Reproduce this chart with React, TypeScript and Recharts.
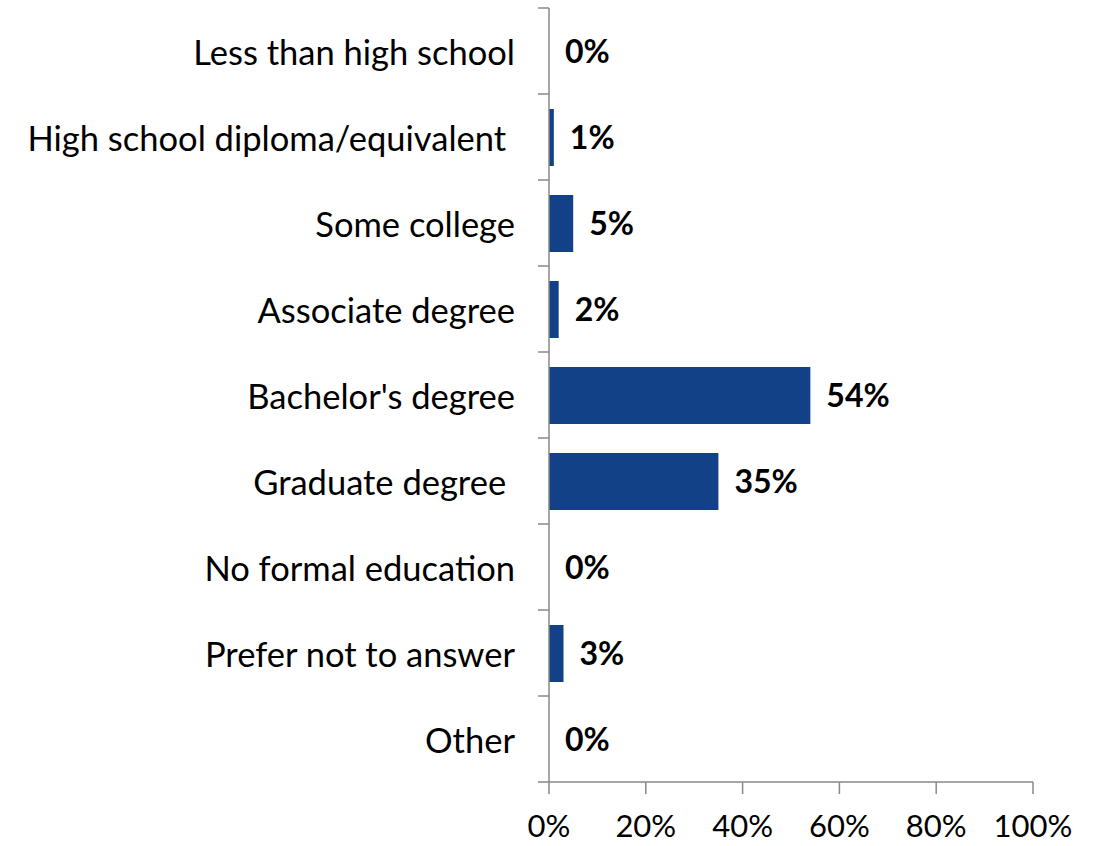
import { BarChart, Bar, XAxis, YAxis, LabelList } from "recharts";

const categories = [
  "Less than high school",
  "High school diploma/equivalent ",
  "Some college",
  "Associate degree",
  "Bachelor's degree",
  "Graduate degree ",
  "No formal education",
  "Prefer not to answer",
  "Other",
];
const shares = [0, 1, 5, 2, 54, 35, 0, 3, 0];
const xTicks = [0, 20, 40, 60, 80, 100];

const data = categories.map((name, i) => ({ name, value: shares[i] }));

const FONT = "Lato, 'Open Sans', sans-serif";
const AXIS = "#898989";
const BAND = 86;

function CategoryTick({ x, y, payload, index }: any) {
  return (
    <g>
      <text
        x={x - 34}
        y={y}
        textAnchor="end"
        dominantBaseline="central"
        fill="#000"
        fontSize={34.5}
        fontFamily={FONT}
        style={{ whiteSpace: "pre" }}
      >
        {payload.value}
      </text>
      <line x1={x - 11} x2={x} y1={y - BAND / 2} y2={y - BAND / 2} stroke={AXIS} strokeWidth={1.5} />
      {index === categories.length - 1 && (
        <line x1={x - 11} x2={x} y1={y + BAND / 2} y2={y + BAND / 2} stroke={AXIS} strokeWidth={1.5} />
      )}
    </g>
  );
}

export default function App() {
  return (
    <div style={{ position: "absolute", left: 0, top: 0, background: "#fff" }}>
      <BarChart
        width={1107}
        height={846}
        data={data}
        layout="vertical"
        margin={{ top: 8, right: 74, bottom: 0, left: 0 }}
        barSize={57}
      >
        <XAxis
          type="number"
          domain={[0, 100]}
          ticks={xTicks}
          tickFormatter={(v) => `${v}%`}
          height={64}
          tickSize={12}
          tickMargin={21}
          stroke={AXIS}
          strokeWidth={1.5}
          tick={{ fill: "#000", fontSize: 31, fontFamily: FONT }}
          interval={0}
        />
        <YAxis
          type="category"
          dataKey="name"
          width={549}
          tickSize={0}
          tickMargin={0}
          tickLine={false}
          stroke={AXIS}
          strokeWidth={1.5}
          tick={<CategoryTick />}
          interval={0}
        />
        <Bar dataKey="value" fill="#134187" minPointSize={0.01} isAnimationActive={false}>
          <LabelList
            dataKey="value"
            position="right"
            offset={16}
            formatter={(v: any) => `${v}%`}
            fill="#000"
            fontSize={32}
            fontWeight="bold"
            fontFamily={FONT}
          />
        </Bar>
      </BarChart>
    </div>
  );
}
